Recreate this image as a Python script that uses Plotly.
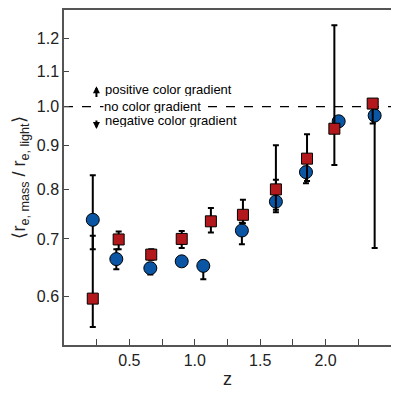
import numpy as np
import plotly.graph_objects as go

# redshift bins and size ratios
z_blue = [0.22, 0.40, 0.66, 0.90, 1.065, 1.36, 1.62, 1.85, 2.10, 2.375]
r_blue = [0.737, 0.663, 0.647, 0.659, 0.651, 0.716, 0.774, 0.838, 0.961, 0.976]
blue_hi = [0.831, 0.681, 0.656, 0.665, 0.660, 0.731, 0.821, 0.850, 0.970, 0.990]
blue_lo = [0.681, 0.645, 0.636, 0.652, 0.628, 0.690, 0.752, 0.813, 0.950, 0.683]

z_red = [0.22, 0.418, 0.667, 0.90, 1.123, 1.368, 1.62, 1.858, 2.067, 2.36]
r_red = [0.596, 0.699, 0.671, 0.700, 0.734, 0.747, 0.800, 0.869, 0.942, 1.008]
red_hi = [0.706, 0.714, 0.681, 0.715, 0.761, 0.778, 0.901, 0.928, 1.245, 1.013]
red_lo = [0.552, 0.681, 0.662, 0.683, 0.712, 0.730, 0.757, 0.818, 0.854, 0.955]

ytick_vals = [0.6, 0.7, 0.8, 0.9, 1.0, 1.1, 1.2]
xtick_vals = [0.25, 0.5, 0.75, 1.0, 1.25, 1.5, 1.75, 2.0, 2.25]
xtick_text = ["", "0.5", "", "1.0", "", "1.5", "", "2.0", ""]

BLUE = "#0a56a5"
RED = "#b3191c"

def err(vals, hi, lo):
    up = [h - v for v, h in zip(vals, hi)]
    dn = [v - l for v, l in zip(vals, lo)]
    return dict(type="data", symmetric=False, array=up, arrayminus=dn,
                color="black", thickness=2, width=3)

fig = go.Figure()

# no-gradient reference line
fig.add_trace(go.Scatter(x=[0, 2.5], y=[1.0, 1.0], mode="lines",
                         line=dict(color="black", width=1.3, dash="dash"),
                         hoverinfo="skip", showlegend=False))

fig.add_trace(go.Scatter(x=z_blue, y=r_blue, mode="markers",
                         marker=dict(symbol="circle", size=13, color=BLUE,
                                     line=dict(color="black", width=1)),
                         error_y=err(r_blue, blue_hi, blue_lo), showlegend=False))
fig.add_trace(go.Scatter(x=z_red, y=r_red, mode="markers",
                         marker=dict(symbol="square", size=11, color=RED,
                                     line=dict(color="black", width=1)),
                         error_y=err(r_red, red_hi, red_lo), showlegend=False))

font_txt = dict(family="Liberation Sans, Arial, sans-serif", size=13, color="black")
fig.add_annotation(x=0.30, y=np.log10(1.047), text="positive color gradient",
                   showarrow=False, xanchor="left", font=font_txt, height=13)
fig.add_annotation(x=0.30, y=np.log10(1.0), text="no color gradient",
                   showarrow=False, xanchor="left", font=font_txt, height=13,
                   bgcolor="white", borderpad=0)
fig.add_annotation(x=0.30, y=np.log10(0.963), text="negative color gradient",
                   showarrow=False, xanchor="left", font=font_txt, height=13)
# small arrows
fig.add_annotation(x=0.248, y=np.log10(1.056), ax=0.248, ay=np.log10(1.022),
                   axref="x", ayref="y", text="", showarrow=True,
                   arrowhead=2, arrowsize=0.7, arrowwidth=2, arrowcolor="black")
fig.add_annotation(x=0.248, y=np.log10(0.941), ax=0.248, ay=np.log10(0.967),
                   axref="x", ayref="y", text="", showarrow=True,
                   arrowhead=2, arrowsize=0.7, arrowwidth=2, arrowcolor="black")

fig.update_layout(
    width=399, height=395,
    margin=dict(l=56, r=16, t=0, b=58),
    plot_bgcolor="white", paper_bgcolor="white",
    font=dict(family="Liberation Sans, Arial, sans-serif", size=16, color="#222"),
)
fig.update_xaxes(range=[0, 2.5], tickvals=xtick_vals, ticktext=xtick_text,
                 ticks="inside", ticklen=6, tickcolor="#444", tickwidth=1,
                 showgrid=False, zeroline=False, showline=True, mirror=True,
                 linecolor="#555", linewidth=1.5,
                 title=dict(text="z", font=dict(size=18), standoff=4))
fig.update_yaxes(type="log", range=[np.log10(0.526), np.log10(1.297)],
                 tickvals=ytick_vals, tickformat=".1f",
                 ticks="inside", ticklen=5, tickcolor="#444", tickwidth=1,
                 showgrid=False, zeroline=False, showline=True, mirror=True,
                 linecolor="#555", linewidth=1.5,
                 title=dict(text="⟨r<sub>e, mass</sub> / r<sub>e, light</sub>⟩",
                            font=dict(size=18), standoff=6))

fig.write_html("out.html")
